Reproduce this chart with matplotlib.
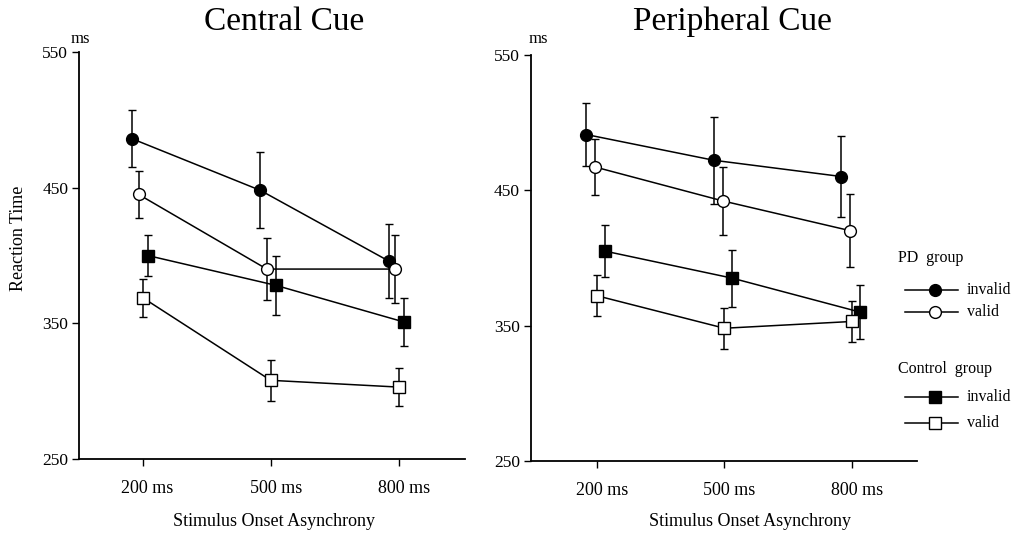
import matplotlib
matplotlib.use("Agg")
import matplotlib.pyplot as plt
import matplotlib.transforms as mtransforms
from matplotlib.lines import Line2D

plt.rcParams['font.family'] = ['Liberation Serif', 'DejaVu Serif']

# ---- data: mean reaction time (ms) and error bar half-length ----
soa = [200, 500, 800]
soa_labels = ['200 ms', '500 ms', '800 ms']

central_pd_invalid = [486, 448, 396]
central_pd_invalid_err = [21, 28, 27]
central_pd_valid = [445, 390, 390]
central_pd_valid_err = [17, 23, 25]
central_ctl_invalid = [400, 378, 351]
central_ctl_invalid_err = [15, 22, 18]
central_ctl_valid = [369, 308, 303]
central_ctl_valid_err = [14, 15, 14]

periph_pd_invalid = [491, 472, 460]
periph_pd_invalid_err = [23, 32, 30]
periph_pd_valid = [467, 442, 420]
periph_pd_valid_err = [21, 25, 27]
periph_ctl_invalid = [405, 385, 360]
periph_ctl_invalid_err = [19, 21, 20]
periph_ctl_valid = [372, 348, 353]
periph_ctl_valid_err = [15, 15, 15]

W, H = 1012, 535
fig = plt.figure(figsize=(W / 100, H / 100), dpi=100)
fig.patch.set_facecolor('white')


def fig_xy(px, py):
    return px / W, 1 - py / H


# marker styles for the four conditions
styles = {
    'pd_invalid': dict(marker='o', mfc='black', ms=8.5),
    'pd_valid': dict(marker='o', mfc='white', ms=8.5),
    'ctl_invalid': dict(marker='s', mfc='black', ms=8),
    'ctl_valid': dict(marker='s', mfc='white', ms=8),
}


def draw_panel(ax, series, dodge, xlim):
    for key, (vals, errs) in series.items():
        xs = [s + dodge[key] for s in soa]
        ax.errorbar(xs, vals, yerr=errs, color='black', lw=1.1,
                    elinewidth=1.1, capsize=3, capthick=1.0,
                    mec='black', mew=1.0, zorder=3, **styles[key])
    ax.set_xlim(*xlim)
    ax.set_ylim(250, 550)
    ax.set_yticks([250, 350, 450, 550])
    ax.set_xticks(soa)
    ax.set_xticklabels(soa_labels, fontsize=13)
    ax.tick_params(axis='y', labelsize=12.5, length=5, width=1, pad=3)
    ax.tick_params(axis='x', length=5, width=1, pad=10)
    for sp in ['top', 'right']:
        ax.spines[sp].set_visible(False)
    for sp in ['left', 'bottom']:
        ax.spines[sp].set_linewidth(1.3)
    shift = mtransforms.ScaledTranslation(5 / 100, 0, fig.dpi_scale_trans)
    for lab in ax.get_xticklabels():
        lab.set_transform(lab.get_transform() + shift)


# ---- left panel: central cue ----
x0, y0 = fig_xy(79.3, 459)
x1, y1 = fig_xy(465, 52)
ax1 = fig.add_axes([x0, y0, x1 - x0, y1 - y0])
draw_panel(ax1,
           {'pd_invalid': (central_pd_invalid, central_pd_invalid_err),
            'pd_valid': (central_pd_valid, central_pd_valid_err),
            'ctl_invalid': (central_ctl_invalid, central_ctl_invalid_err),
            'ctl_valid': (central_ctl_valid, central_ctl_valid_err)},
           {'pd_invalid': -24, 'pd_valid': -9, 'ctl_invalid': 12, 'ctl_valid': 0},
           (52, 955))

# ---- right panel: peripheral cue ----
x0, y0 = fig_xy(531, 461)
x1, y1 = fig_xy(917, 54.6)
ax2 = fig.add_axes([x0, y0, x1 - x0, y1 - y0])
draw_panel(ax2,
           {'pd_invalid': (periph_pd_invalid, periph_pd_invalid_err),
            'pd_valid': (periph_pd_valid, periph_pd_valid_err),
            'ctl_invalid': (periph_ctl_invalid, periph_ctl_invalid_err),
            'ctl_valid': (periph_ctl_valid, periph_ctl_valid_err)},
           {'pd_invalid': -25, 'pd_valid': -4, 'ctl_invalid': 18, 'ctl_valid': 0},
           (45, 953))

# ---- titles, units and axis labels ----
for text, px, py, size in [('Central Cue', 284, 22, 24),
                           ('Peripheral Cue', 732, 22, 24)]:
    fig.text(*fig_xy(px, py), text, fontsize=size, ha='center', va='center')
for px in (80, 538):
    fig.text(*fig_xy(px, 39), 'ms', fontsize=12, ha='center', va='center')
for px in (274, 750):
    fig.text(*fig_xy(px, 521), 'Stimulus Onset Asynchrony', fontsize=13,
             ha='center', va='center')
fig.text(*fig_xy(19, 238), 'Reaction Time', fontsize=13, rotation=90,
         ha='center', va='center')

# ---- hand-drawn legend on the right ----
legend_rows = [
    ('PD  group', None, 258),
    ('invalid', 'pd_invalid', 290),
    ('valid', 'pd_valid', 312),
    ('Control  group', None, 369),
    ('invalid', 'ctl_invalid', 397),
    ('valid', 'ctl_valid', 423),
]
for text, key, py in legend_rows:
    if key is None:
        fig.text(*fig_xy(898, py), text, fontsize=11.5, ha='left', va='center')
        continue
    lx0, fy = fig_xy(905, py)
    lx1, _ = fig_xy(958, py)
    mx, _ = fig_xy(935, py)
    fig.add_artist(Line2D([lx0, lx1], [fy, fy], color='black', lw=1.1,
                          transform=fig.transFigure))
    st = styles[key]
    fig.add_artist(Line2D([mx], [fy], color='black', lw=0, marker=st['marker'],
                          mfc=st['mfc'], mec='black', mew=1.0, ms=st['ms'],
                          transform=fig.transFigure))
    fig.text(*fig_xy(967, py), text, fontsize=11.5, ha='left', va='center')

fig.savefig('out.png', dpi=100, facecolor='white')
